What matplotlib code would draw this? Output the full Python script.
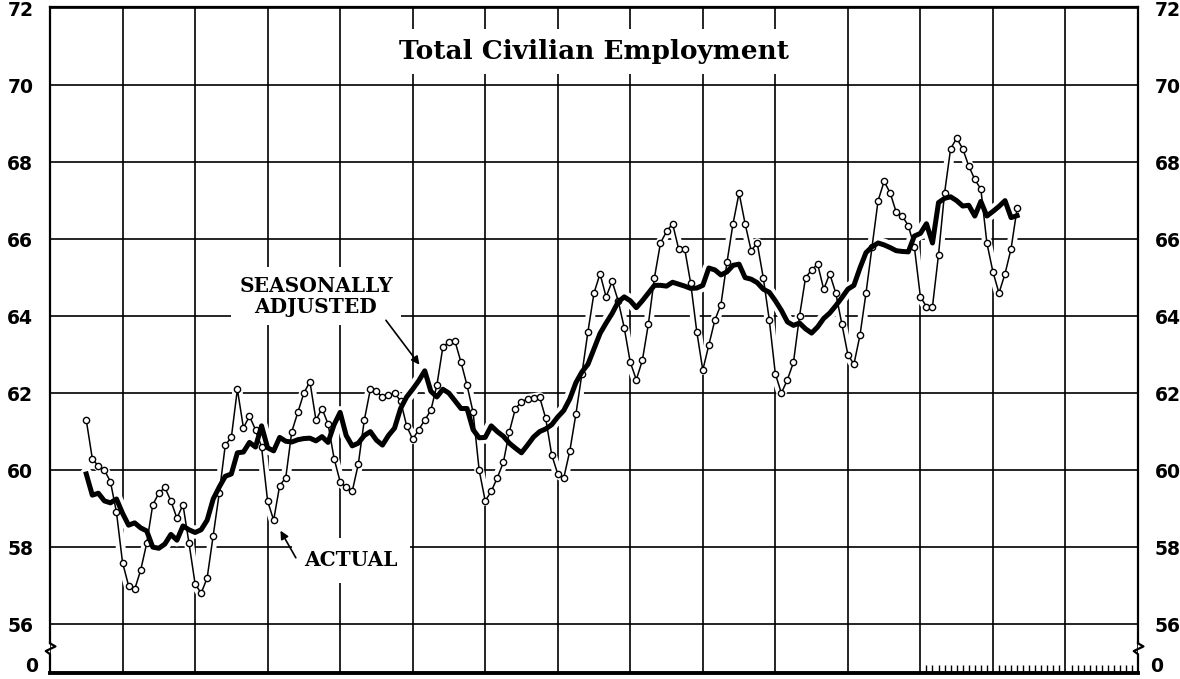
import matplotlib.pyplot as plt

# months counted from January of the first year column (one column = one year)
months = list(range(6, 161))

actual = [
    61.3, 60.3, 60.1, 60.0, 59.7, 58.9,
    57.6, 57.0, 56.9, 57.4, 58.1, 59.1, 59.4, 59.55, 59.2, 58.75, 59.1, 58.1,
    57.05, 56.8, 57.2, 58.3, 59.4, 60.65, 60.85, 62.1, 61.1, 61.4, 61.05, 60.6,
    59.2, 58.7, 59.6, 59.8, 61.0, 61.5, 62.0, 62.3, 61.3, 61.6, 61.2, 60.3,
    59.7, 59.55, 59.45, 60.15, 61.3, 62.1, 62.05, 61.9, 61.95, 62.0, 61.8, 61.15,
    60.8, 61.05, 61.3, 61.55, 62.2, 63.2, 63.33, 63.35, 62.8, 62.2, 61.5, 60.0,
    59.2, 59.45, 59.8, 60.2, 61.0, 61.6, 61.77, 61.85, 61.87, 61.9, 61.35, 60.4,
    59.9, 59.8, 60.5, 61.45, 62.5, 63.6, 64.6, 65.1, 64.5, 64.9, 64.4, 63.7,
    62.8, 62.35, 62.85, 63.8, 65.0, 65.9, 66.2, 66.4, 65.75, 65.75, 64.85, 63.6,
    62.6, 63.25, 63.9, 64.3, 65.4, 66.4, 67.2, 66.4, 65.7, 65.9, 65.0, 63.9,
    62.5, 62.0, 62.35, 62.8, 64.0, 65.0, 65.2, 65.35, 64.7, 65.1, 64.6, 63.8,
    63.0, 62.75, 63.5, 64.6, 65.8, 67.0, 67.5, 67.2, 66.7, 66.6, 66.35, 65.8,
    64.5, 64.25, 64.25, 65.6, 67.2, 68.35, 68.62, 68.35, 67.9, 67.55, 67.3, 65.9,
    65.15, 64.6, 65.1, 65.75, 66.8,
]

adjusted = [
    59.9, 59.35, 59.4, 59.2, 59.15, 59.25,
    58.88, 58.57, 58.63, 58.5, 58.42, 58.0, 57.97, 58.08, 58.33, 58.18, 58.55, 58.45,
    58.38, 58.45, 58.7, 59.25, 59.56, 59.84, 59.9, 60.45, 60.47, 60.72, 60.6, 61.15,
    60.58, 60.5, 60.85, 60.75, 60.73, 60.79, 60.82, 60.83, 60.76, 60.87, 60.72, 61.18,
    61.5, 60.9, 60.63, 60.7, 60.9, 61.0, 60.78, 60.65, 60.9, 61.09, 61.6, 61.9,
    62.1, 62.32, 62.58, 62.05, 61.9, 62.1, 62.0, 61.8, 61.6, 61.6, 61.05, 60.84,
    60.85, 61.15, 61.0, 60.88, 60.7, 60.57, 60.45, 60.65, 60.86, 61.0, 61.07, 61.18,
    61.38, 61.55, 61.85, 62.27, 62.55, 62.75, 63.15, 63.55, 63.82, 64.07, 64.37, 64.5,
    64.4, 64.22, 64.4, 64.6, 64.8, 64.8, 64.78, 64.88, 64.83, 64.78, 64.72, 64.73,
    64.8, 65.25, 65.2, 65.07, 65.15, 65.32, 65.35, 65.0, 64.96, 64.87, 64.7, 64.62,
    64.4, 64.15, 63.85, 63.76, 63.82, 63.67, 63.56, 63.72, 63.94, 64.08, 64.27, 64.48,
    64.7, 64.8, 65.25, 65.65, 65.8, 65.9, 65.85, 65.78, 65.7, 65.68, 65.67, 66.08,
    66.15, 66.4, 65.9, 66.95, 67.06, 67.1, 67.0, 66.86, 66.88, 66.6, 66.98, 66.6,
    66.72, 66.85, 67.0, 66.56, 66.61,
]

y_ticks = [56, 58, 60, 62, 64, 66, 68, 70, 72]
y_bottom = 54.73
y_top = 72.03

fig = plt.figure(figsize=(11.8, 6.79), dpi=100)
ax = fig.add_axes([50 / 1180, 6 / 679, 1088 / 1180, 666 / 679])
ax.set_xlim(0, 180)
ax.set_ylim(y_bottom, y_top)
ax.set_axisbelow(True)

# white halos so the grid breaks around the curves
ax.plot(months, actual, color='white', lw=7, zorder=2, solid_capstyle='round')
ax.plot(months, adjusted, color='white', lw=9, zorder=2, solid_capstyle='round')

ax.plot(months, actual, color='black', lw=1.1, marker='o', markersize=4.5,
        markerfacecolor='white', markeredgecolor='black', markeredgewidth=1.0, zorder=3)
ax.plot(months, adjusted, color='black', lw=3.6, zorder=4)

# grid
ax.set_xticks(range(0, 181, 12))
ax.set_xticks(range(145, 180), minor=True)
ax.set_yticks(y_ticks)
ax.grid(True, which='major', color='black', lw=1.2)
ax.tick_params(axis='x', which='major', length=0, labelbottom=False)
ax.tick_params(axis='x', which='minor', direction='in', length=6, width=1, bottom=True)
ax.tick_params(axis='y', length=0, labelleft=True, labelright=True, pad=12)
for lab in ax.get_yticklabels():
    lab.set_fontfamily('DejaVu Sans')
    lab.set_fontweight('bold')
    lab.set_fontsize(13.5)

# zero labels at the foot of the broken scale
ytr = ax.get_yaxis_transform()
ax.text(-12 / 1088, 54.9, '0', transform=ytr, ha='right', va='center',
        fontsize=13.5, fontweight='bold', family='DejaVu Sans')
ax.text(1 + 12 / 1088, 54.9, '0', transform=ytr, ha='left', va='center',
        fontsize=13.5, fontweight='bold', family='DejaVu Sans')

for side in ['top', 'left', 'right']:
    ax.spines[side].set_linewidth(1.6)
ax.spines['bottom'].set_linewidth(2.8)

# scale breaks near zero
ax.spines['left'].set_bounds(55.52, y_top)
ax.spines['right'].set_bounds(55.52, y_top)
ax.plot([0, 0, 0.9, -0.7, 0, 0], [55.52, 55.5, 55.42, 55.3, 55.22, y_bottom],
        color='black', lw=1.6, clip_on=False, zorder=5)
ax.plot([180, 180, 180.9, 179.3, 180, 180], [55.52, 55.5, 55.42, 55.3, 55.22, y_bottom],
        color='black', lw=1.6, clip_on=False, zorder=5)

ax.text(90, 70.88, 'Total Civilian Employment', ha='center', va='center',
        fontsize=19, fontweight='bold', family='DejaVu Serif', zorder=6,
        bbox=dict(facecolor='white', edgecolor='none', pad=7))

ax.text(44.0, 64.52, 'SEASONALLY\nADJUSTED', ha='center', va='center',
        fontsize=14.5, fontweight='bold', family='DejaVu Serif', linespacing=1.05,
        zorder=6, bbox=dict(facecolor='white', edgecolor='none', pad=6))
ax.annotate('', xy=(61.4, 62.68), xytext=(55.3, 63.95),
            arrowprops=dict(arrowstyle='-|>', color='black', lw=1.2,
                            mutation_scale=12), zorder=6)

ax.text(49.8, 57.66, 'ACTUAL', ha='center', va='center',
        fontsize=14.5, fontweight='bold', family='DejaVu Serif', zorder=6,
        bbox=dict(facecolor='white', edgecolor='none', pad=9))
ax.annotate('', xy=(37.9, 58.49), xytext=(40.9, 57.66),
            arrowprops=dict(arrowstyle='-|>', color='black', lw=1.2,
                            mutation_scale=12), zorder=7)

fig.savefig('out.png', dpi=100)
